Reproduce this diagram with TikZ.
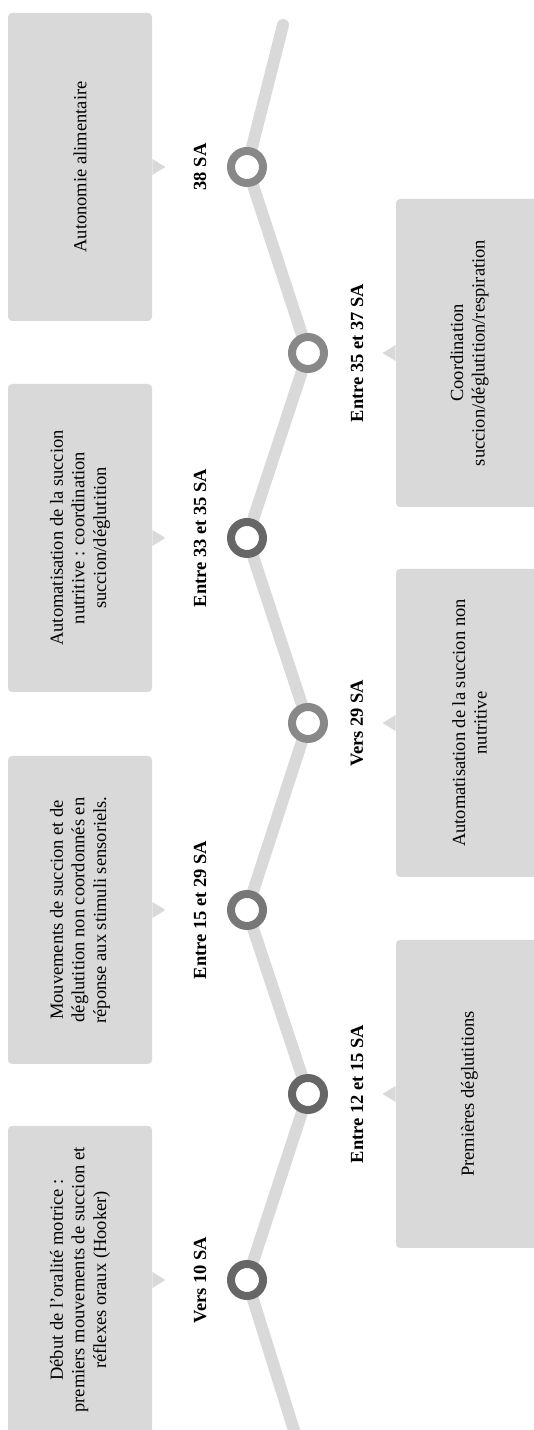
\documentclass[tikz,border=0pt]{standalone}
\usepackage{fontspec}
\setmainfont{Liberation Serif}
\usetikzlibrary{calc, positioning}
\definecolor{railgray}{HTML}{D9D9D9}
\definecolor{boxgray}{HTML}{D9D9D9}
\definecolor{ringdark}{HTML}{666666}
\definecolor{ringmid}{HTML}{777777}
\definecolor{ringlight}{HTML}{888888}
\tikzset{
    rail/.style={line width=6pt, draw=railgray, line cap=round, line join=round},
    ring/.style={circle, draw=#1, line width=4pt, fill=white, minimum size=16pt, inner sep=0pt},
    event/.style={rectangle, rounded corners=2pt, fill=boxgray, rotate=90, minimum width=154pt, minimum height=72pt, align=center, inner sep=2pt, font=\fontsize{9.25}{10.8}\selectfont},
    eventR/.style={event, minimum height=73.5pt},
    datelabel/.style={rotate=90, inner sep=1pt, font=\fontsize{9.25}{11}\selectfont\bfseries}
}

\begin{document}
\begin{tikzpicture}[x=0.5pt, y=0.5pt]
    \clip (0,0) rectangle (534,1430);
    \useasboundingbox (0,0) rectangle (534,1430);

    % Milestones on the rail
    \coordinate (p1) at (247,150);
    \coordinate (p2) at (308,336);
    \coordinate (p3) at (247,520);
    \coordinate (p4) at (308,707);
    \coordinate (p5) at (247,892);
    \coordinate (p6) at (308,1077);
    \coordinate (p7) at (247,1263);
    \coordinate (railStart) at (297,-10);
    \coordinate (railEnd) at (283,1405);

    \draw[rail] (railStart) -- (p1) -- (p2) -- (p3) -- (p4) -- (p5) -- (p6) -- (p7) -- (railEnd);

    \node[ring=ringdark] (r1) at (p1) {};
    \node[ring=ringdark] (r2) at (p2) {};
    \node[ring=ringmid] (r3) at (p3) {};
    \node[ring=ringlight] (r4) at (p4) {};
    \node[ring=ringdark] (r5) at (p5) {};
    \node[ring=ringlight] (r6) at (p6) {};
    \node[ring=ringlight] (r7) at (p7) {};

    % Dates
    \node[datelabel] (d1) at ($(r1)+(-47,0)$) {Vers 10 SA};
    \node[datelabel] (d2) at ($(r2)+(49,0)$) {Entre 12 et 15 SA};
    \node[datelabel] (d3) at ($(r3)+(-47,0)$) {Entre 15 et 29 SA};
    \node[datelabel] (d4) at ($(r4)+(49,0)$) {Vers 29 SA};
    \node[datelabel] (d5) at ($(r5)+(-47,0)$) {Entre 33 et 35 SA};
    \node[datelabel] (d6) at ($(r6)+(49,0)$) {Entre 35 et 37 SA};
    \node[datelabel] (d7) at ($(r7)+(-47,0)$) {38 SA};

    % Events
    \node[event] (b1) at (80,150) {Début de l’oralité motrice :\\premiers mouvements de succion et\\réflexes oraux (Hooker)};
    \node[eventR] (b2) at (469.5,336) {Premières déglutitions};
    \node[event] (b3) at (80,520) {Mouvements de succion et de\\déglutition non coordonnés en\\réponse aux stimuli sensoriels.};
    \node[eventR] (b4) at (469.5,707) {Automatisation de la succion non\\nutritive};
    \node[event] (b5) at (80,892) {Automatisation de la succion\\nutritive : coordination\\succion/déglutition};
    \node[eventR] (b6) at (469.5,1077) {Coordination\\succion/déglutition/respiration};
    \node[event] (b7) at (80,1263) {Autonomie alimentaire};

    % Pointers
    \foreach \b in {b1,b3,b5,b7}
        \fill[boxgray] ($(\b.south)+(0,8)$) -- ($(\b.south)+(13,0)$) -- ($(\b.south)+(0,-8)$) -- cycle;
    \foreach \b in {b2,b4,b6}
        \fill[boxgray] ($(\b.north)+(0,8)$) -- ($(\b.north)+(-13,0)$) -- ($(\b.north)+(0,-8)$) -- cycle;
\end{tikzpicture}
\end{document}
